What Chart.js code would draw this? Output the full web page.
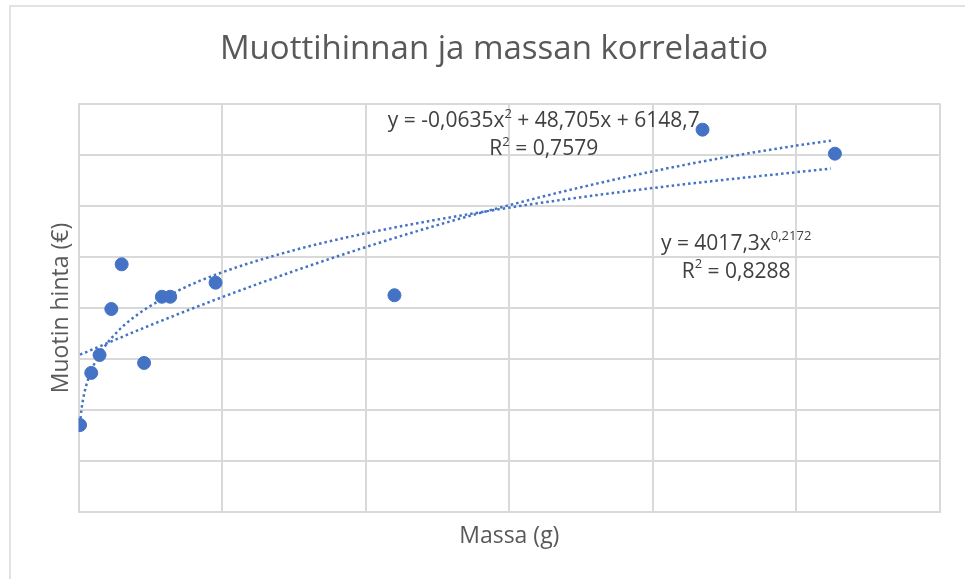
<!DOCTYPE html>
<html lang="fi">
<head>
  <meta charset="UTF-8" />
  <title>Muottihinnan ja massan korrelaatio</title>
  <script src="https://cdn.jsdelivr.net/npm/chart.js"></script>
  <style>
    body { margin: 0; background: #fff; }
    #wrap { position: relative; width: 965px; height: 579px; overflow: hidden; }
    #frame {
      position: absolute; left: 9px; top: 5px; width: 1000px; height: 1000px;
      border: 2px solid #e2e2e2;
    }
    canvas { position: absolute; left: 0; top: 0; }
  </style>
</head>
<body>
<div id="wrap">
  <div id="frame"></div>
  <canvas id="chart" width="965" height="579"></canvas>
</div>
<script>
  // measured points: mass (g) and mould price (€)
  const massa = [0.5, 4.4, 7.3, 11.4, 15, 22.8, 29, 31.9, 47.7, 110, 217.3, 263.4];
  const hinta = [3420, 5460, 6160, 7960, 9710, 5850, 8440, 8440, 8990, 8500, 14980, 14040];

  // trendlines
  const polyX = [0.5, 25, 50, 75, 100, 125, 150, 175, 200, 225, 250, 262];
  const polyY = [6173, 7327, 8425, 9444, 10384, 11245, 12026, 12727, 13350, 13893, 14356, 14550];
  const powX = [0.5, 1, 2, 4, 7, 12, 20, 35, 50, 75, 100, 150, 200, 262];
  const powY = [3455, 4017, 4670, 5428, 6130, 6892, 7700, 8696, 9396, 10261, 10923, 11929, 12697, 13460];

  // trendline labels: [text, superscript] pieces per line
  const labels = [
    { x: 162, y: 15300, lines: [[['y = -0,0635x', false], ['2', true], [' + 48,705x + 6148,7', false]],
                                [['R', false], ['2', true], [' = 0,7579', false]]] },
    { x: 229, y: 10520, lines: [[['y = 4017,3x', false], ['0,2172', true]],
                                [['R', false], ['2', true], [' = 0,8288', false]]] }
  ];

  const blue = '#4472c4';
  const grid = '#d9d9d9';

  const toXY = (xs, ys) => xs.map((x, i) => ({ x: x, y: ys[i] }));

  const eqPlugin = {
    id: 'eqLabels',
    afterDatasetsDraw(chart) {
      const ctx = chart.ctx;
      const sx = chart.scales.x, sy = chart.scales.y;
      const big = '21px "Open Sans"', small = '13px "Open Sans"';
      ctx.save();
      ctx.fillStyle = '#404040';
      ctx.textAlign = 'left';
      ctx.textBaseline = 'middle';
      labels.forEach(l => {
        const cx = sx.getPixelForValue(l.x);
        const cy = sy.getPixelForValue(l.y);
        l.lines.forEach((parts, i) => {
          let w = 0;
          parts.forEach(p => { ctx.font = p[1] ? small : big; w += ctx.measureText(p[0]).width; });
          let px = cx - w / 2;
          const py = cy + i * 28;
          parts.forEach(p => {
            ctx.font = p[1] ? small : big;
            ctx.fillText(p[0], px, p[1] ? py - 7 : py);
            px += ctx.measureText(p[0]).width;
          });
        });
      });
      ctx.restore();
    }
  };

  new Chart(document.getElementById('chart'), {
    type: 'scatter',
    data: {
      datasets: [
        {
          label: 'Hinta',
          data: toXY(massa, hinta),
          backgroundColor: blue,
          borderColor: blue,
          pointRadius: 6.5,
          order: 0
        },
        {
          label: 'Polynomi',
          type: 'line',
          data: toXY(polyX, polyY),
          borderColor: blue,
          borderWidth: 2.5,
          borderDash: [2.5, 3],
          pointRadius: 0,
          cubicInterpolationMode: 'monotone',
          fill: false,
          order: 1
        },
        {
          label: 'Potenssi',
          type: 'line',
          data: toXY(powX, powY),
          borderColor: blue,
          borderWidth: 2.5,
          borderDash: [2.5, 3],
          pointRadius: 0,
          cubicInterpolationMode: 'monotone',
          fill: false,
          order: 1
        }
      ]
    },
    options: {
      responsive: false,
      animation: false,
      layout: { padding: { left: 48, right: 25, top: 0, bottom: 29 } },
      plugins: {
        legend: { display: false },
        tooltip: { enabled: false },
        title: {
          display: true,
          text: 'Muottihinnan ja massan korrelaatio',
          color: '#595959',
          font: { family: 'Open Sans', size: 33, weight: 'normal' },
          padding: { top: 30, bottom: 34 }
        }
      },
      scales: {
        x: {
          type: 'linear',
          min: 0, max: 300,
          ticks: { display: false, stepSize: 50 },
          grid: { color: grid, lineWidth: 2, drawTicks: false },
          border: { color: grid, width: 2 },
          title: {
            display: true,
            text: 'Massa (g)',
            color: '#595959',
            font: { family: 'Open Sans', size: 23 },
            padding: { top: 10, bottom: 0 }
          }
        },
        y: {
          min: 0, max: 16000,
          ticks: { display: false, stepSize: 2000 },
          grid: { color: grid, lineWidth: 2, drawTicks: false },
          border: { color: grid, width: 2 },
          title: {
            display: true,
            text: 'Muotin hinta (€)',
            color: '#595959',
            font: { family: 'Open Sans', size: 23 },
            padding: { top: 0, bottom: 3 }
          }
        }
      }
    },
    plugins: [eqPlugin]
  });
</script>
</body>
</html>
